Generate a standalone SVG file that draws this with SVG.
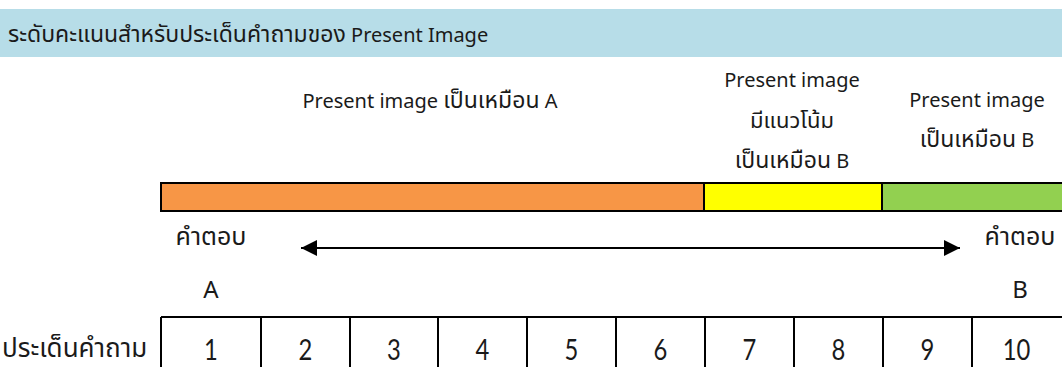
<svg xmlns="http://www.w3.org/2000/svg" width="1062" height="367" viewBox="0 0 1062 367">
<defs>
<style>
text{font-family:'Noto Sans Thai','Noto Sans Thai UI','Leelawadee UI','Noto Sans',sans-serif;fill:#1a1a1a;}
.lbl{font-size:20px;text-anchor:middle;}
.th{font-size:23px;}
.th25{font-size:25px;}
.ab{font-size:24px;text-anchor:middle;}
.num{font-family:Lato,'Open Sans',sans-serif;font-size:28px;text-anchor:middle;}
.seg{stroke:#000;stroke-width:2;}
.grid{stroke:#000;stroke-width:2;fill:none;}
.conn{stroke:#000;stroke-width:2;fill:none;}
</style>
<marker id="ah" viewBox="0 0 16 16" refX="16" refY="8" markerWidth="16" markerHeight="16" markerUnits="userSpaceOnUse" orient="auto-start-reverse">
<path d="M0,0 L16,8 L0,16 Z" fill="#000"/>
</marker>
</defs>
<rect width="1062" height="367" fill="#fff"/>
<g id="header">
<rect x="0" y="9" width="1062" height="48" fill="#b7dde8"/>
<text x="8" y="42"><tspan style="font-size:23px">ระดับคะแนนสำหรับประเด็นคำถามของ</tspan><tspan style="font-size:20px"> Present Image</tspan></text>
</g>
<g id="label-a">
<text class="lbl" x="430" y="108">Present image <tspan class="th">เป็นเหมือน</tspan> A</text>
</g>
<g id="label-mid">
<text class="lbl" x="792" y="87">Present image</text>
<text class="lbl" x="792" y="128"><tspan style="font-size:22px">มีแนวโน้ม</tspan></text>
<text class="lbl" x="792" y="168"><tspan class="th">เป็นเหมือน</tspan> B</text>
</g>
<g id="label-b">
<text class="lbl" x="977" y="107">Present image</text>
<text class="lbl" x="977" y="147"><tspan class="th">เป็นเหมือน</tspan> B</text>
</g>
<g id="bar">
<rect class="seg" x="161" y="183" width="543" height="28" fill="#f79646"/>
<rect class="seg" x="704" y="183" width="178" height="28" fill="#ffff00"/>
<rect class="seg" x="882" y="183" width="182" height="28" fill="#92d050"/>
</g>
<g id="answer-a">
<text class="lbl" x="211" y="245"><tspan class="th25">คำตอบ</tspan></text>
<text class="ab" x="211" y="298">A</text>
</g>
<g id="answer-b">
<text class="lbl" x="1020" y="245"><tspan class="th25">คำตอบ</tspan></text>
<text class="ab" x="1020" y="298">B</text>
</g>
<g id="connectors">
<line class="conn" x1="301" y1="248" x2="960" y2="248" marker-start="url(#ah)" marker-end="url(#ah)"/>
</g>
<g id="row-label">
<text x="2" y="357" style="font-size:26px">ประเด็นคำถาม</text>
</g>
<g id="table">
<path class="grid" d="M161,317 H1064 M161,317 V368 M261,317 V368 M350,317 V368 M438,317 V368 M527,317 V368 M616,317 V368 M705,317 V368 M794,317 V368 M883,317 V368 M972,317 V368"/>
<text class="num" transform="translate(211,360) scale(0.85,1)">1</text>
<text class="num" transform="translate(305.5,360) scale(0.85,1)">2</text>
<text class="num" transform="translate(394,360) scale(0.85,1)">3</text>
<text class="num" transform="translate(482.5,360) scale(0.85,1)">4</text>
<text class="num" transform="translate(571.5,360) scale(0.85,1)">5</text>
<text class="num" transform="translate(660.5,360) scale(0.85,1)">6</text>
<text class="num" transform="translate(749.5,360) scale(0.85,1)">7</text>
<text class="num" transform="translate(838.5,360) scale(0.85,1)">8</text>
<text class="num" transform="translate(927.5,360) scale(0.85,1)">9</text>
<text class="num" transform="translate(1016.5,360) scale(0.85,1)">10</text>
</g>
</svg>
